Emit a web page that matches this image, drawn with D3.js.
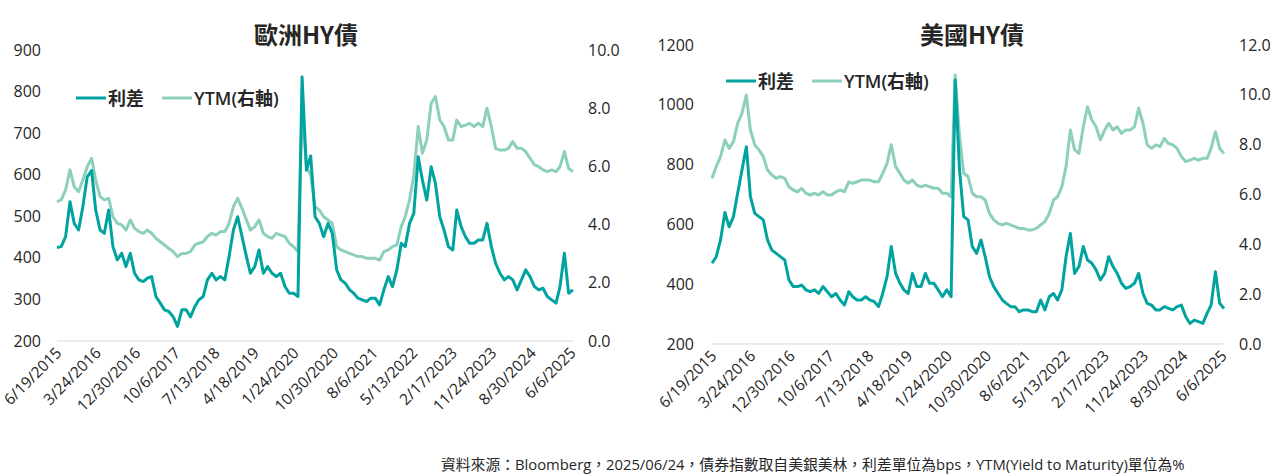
<!DOCTYPE html>
<html>
<head>
<meta charset="utf-8">
<script src="https://cdn.jsdelivr.net/npm/d3@7"></script>
<style>
  body { margin: 0; background: #fff; }
  svg { display: block; font-family: "Open Sans", "Noto Sans CJK TC", sans-serif; }
</style>
</head>
<body>
<svg id="chart" width="1272" height="474"></svg>
<script>
// fechas de los rótulos del eje x (cada 40 semanas)
const tickLabels = ["6/19/2015", "3/24/2016", "12/30/2016", "10/6/2017", "7/13/2018", "4/18/2019",
  "1/24/2020", "10/30/2020", "8/6/2021", "5/13/2022", "2/17/2023", "11/24/2023", "8/30/2024", "6/6/2025"];

// una observación por mes, desde jun-2015 hasta jun-2025
const startDate = new Date(2015, 5, 19);
const endDate = new Date(2025, 5, 19);

// Europa HY: spread (bps) y YTM (%)
const euSpread = [425, 427, 451, 535, 483, 467, 523,
  595, 610, 515, 467, 459, 515, 427, 395, 411, 379, 411, 363,
  347, 343, 351, 355, 307, 291, 275, 271, 258, 235, 275, 275,
  258, 283, 299, 307, 347, 363, 347, 355, 347, 403, 467, 499,
  451, 403, 363, 379, 419, 363, 379, 363, 355, 363, 331, 315,
  315, 307, 835, 611, 645, 499, 483, 451, 483, 459, 371, 347,
  339, 323, 315, 303, 299, 295, 303, 303, 287, 323, 355, 331,
  371, 435, 427, 483, 507, 643, 587, 539, 619, 579, 499, 467,
  427, 419, 515, 475, 451, 435, 435, 443, 443, 483, 427, 387,
  363, 347, 355, 347, 323, 347, 371, 355, 331, 323, 327, 307,
  299, 291, 331, 411, 315, 323];
const euYtm = [4.79, 4.85, 5.19, 5.88, 5.30, 5.13, 5.53,
  5.99, 6.28, 5.53, 4.96, 4.85, 4.90, 4.27, 4.04, 3.99, 3.81, 4.16, 3.87,
  3.76, 3.70, 3.81, 3.70, 3.53, 3.41, 3.30, 3.18, 3.07, 2.90, 3.01, 3.01,
  3.07, 3.30, 3.36, 3.41, 3.59, 3.70, 3.64, 3.76, 3.76, 4.04, 4.62, 4.90,
  4.56, 4.16, 3.81, 3.93, 4.16, 3.70, 3.59, 3.53, 3.70, 3.64, 3.59, 3.36,
  3.24, 3.07, 7.94, 5.99, 5.70, 4.62, 4.50, 4.27, 4.16, 4.04, 3.24, 3.13,
  3.07, 3.01, 2.96, 2.90, 2.90, 2.84, 2.84, 2.84, 2.78, 3.07, 3.13, 3.24,
  3.30, 3.93, 4.27, 4.85, 5.70, 7.37, 6.45, 6.91, 8.17, 8.40, 7.59, 7.37,
  6.91, 6.91, 7.59, 7.37, 7.42, 7.48, 7.37, 7.48, 7.37, 8.00, 7.37, 6.62,
  6.56, 6.56, 6.62, 6.85, 6.62, 6.62, 6.51, 6.28, 6.05, 5.99, 5.88, 5.82,
  5.88, 5.82, 5.99, 6.51, 5.93, 5.82];

// EEUU HY: spread (bps) y YTM (%)
const usSpread = [470, 492, 548, 640, 592, 626, 704,
  782, 860, 693, 637, 626, 615, 548, 514, 503, 492, 481, 414,
  392, 392, 397, 381, 375, 381, 369, 392, 375, 358, 369, 347,
  330, 375, 358, 347, 347, 358, 347, 342, 325, 369, 425, 526,
  436, 403, 381, 369, 436, 392, 392, 436, 403, 403, 381, 358,
  381, 358, 1083, 782, 626, 615, 526, 503, 548, 492, 425, 392,
  369, 347, 336, 325, 325, 308, 314, 314, 308, 308, 347, 314,
  358, 369, 347, 381, 492, 570, 436, 459, 526, 481, 470, 448,
  414, 436, 492, 459, 436, 403, 386, 392, 403, 436, 369, 336,
  330, 314, 314, 325, 319, 314, 325, 330, 291, 269, 280, 275,
  269, 303, 330, 442, 336, 319];
const usYtm = [6.65, 7.12, 7.52, 8.19, 7.85, 8.12, 8.86,
  9.26, 9.99, 8.59, 7.99, 7.79, 7.52, 6.98, 6.78, 6.65, 6.72, 6.65, 6.31,
  6.18, 6.11, 6.25, 6.05, 5.98, 6.05, 5.98, 6.11, 5.98, 5.98, 6.11, 6.18,
  6.11, 6.51, 6.45, 6.51, 6.58, 6.58, 6.58, 6.51, 6.51, 6.85, 7.25, 8.00,
  7.12, 6.85, 6.58, 6.45, 6.58, 6.38, 6.31, 6.38, 6.31, 6.25, 6.25, 6.05,
  6.05, 5.91, 10.80, 8.32, 6.85, 6.72, 6.05, 5.91, 5.91, 5.78, 5.24, 4.98,
  4.84, 4.78, 4.84, 4.78, 4.71, 4.64, 4.64, 4.58, 4.58, 4.64, 4.78, 4.91,
  5.24, 5.78, 5.91, 6.31, 7.12, 8.59, 7.79, 7.65, 8.72, 9.52, 8.99, 8.72,
  8.19, 8.59, 8.86, 8.59, 8.72, 8.45, 8.59, 8.59, 8.72, 9.46, 8.86, 7.99,
  7.85, 7.99, 7.92, 8.25, 8.05, 7.99, 7.85, 7.52, 7.32, 7.38, 7.45, 7.38,
  7.45, 7.45, 7.85, 8.52, 7.85, 7.65];

const euLeftTicks = [200, 300, 400, 500, 600, 700, 800, 900];
const euRightTicks = [0, 2, 4, 6, 8, 10];
const usLeftTicks = [200, 400, 600, 800, 1000, 1200];
const usRightTicks = [0, 2, 4, 6, 8, 10, 12];

const legendNames = ["利差", "YTM(右軸)"];
const footNote = "資料來源：Bloomberg，2025/06/24，債券指數取自美銀美林，利差單位為bps，YTM(Yield to Maturity)單位為%";

const colorSpread = "#00a39f";
const colorYtm = "#8ccfbd";
const textColor = "#262626";

const parseDate = d3.timeParse("%-m/%-d/%Y");
const dates = euSpread.map((_, i) => d3.timeMonth.offset(startDate, i));

const svg = d3.select("#chart");

function drawPanel(cfg) {
  const g = svg.append("g");
  const x = d3.scaleTime().domain([startDate, endDate]).range([cfg.x0, cfg.x1]);
  const yL = d3.scaleLinear().domain([cfg.leftTicks[0], cfg.leftTicks[cfg.leftTicks.length - 1]]).range([cfg.yBase, cfg.yTop]);
  const yR = d3.scaleLinear().domain([cfg.rightTicks[0], cfg.rightTicks[cfg.rightTicks.length - 1]]).range([cfg.yBase, cfg.yTop]);

  // línea base
  g.append("line")
    .attr("x1", cfg.x0).attr("x2", cfg.x1)
    .attr("y1", cfg.yBase).attr("y2", cfg.yBase)
    .attr("stroke", "#d9d9d9").attr("stroke-width", 1);

  // eje izquierdo
  const axL = g.append("g")
    .attr("transform", `translate(${cfg.leftLabelX},0)`)
    .call(d3.axisLeft(yL).tickValues(cfg.leftTicks).tickSize(0).tickPadding(0).tickFormat(d3.format("d")));
  axL.select(".domain").remove();
  axL.selectAll("text").attr("font-size", 16).attr("fill", textColor).attr("font-family", "Open Sans");

  // eje derecho
  const axR = g.append("g")
    .attr("transform", `translate(${cfg.rightLabelX},0)`)
    .call(d3.axisRight(yR).tickValues(cfg.rightTicks).tickSize(0).tickPadding(0).tickFormat(d3.format(".1f")));
  axR.select(".domain").remove();
  axR.selectAll("text").attr("font-size", 16).attr("fill", textColor).attr("font-family", "Open Sans");

  // eje x con rótulos girados
  const axX = g.append("g")
    .attr("transform", `translate(0,${cfg.yBase})`)
    .call(d3.axisBottom(x).tickValues(tickLabels.map(parseDate)).tickSize(0).tickPadding(0)
      .tickFormat(d3.timeFormat("%-m/%-d/%Y")));
  axX.select(".domain").remove();
  axX.selectAll("text")
    .attr("font-size", 15.5).attr("fill", textColor).attr("font-family", "Open Sans")
    .attr("text-anchor", "end")
    .attr("dy", null)
    .attr("y", 0)
    .attr("transform", "translate(5,13) rotate(-45)");

  // líneas
  const lineYtm = d3.line().x((d, i) => x(dates[i])).y(d => yR(d));
  const lineSpread = d3.line().x((d, i) => x(dates[i])).y(d => yL(d));
  g.append("path").datum(cfg.ytm)
    .attr("d", lineYtm).attr("fill", "none")
    .attr("stroke", colorYtm).attr("stroke-width", 3).attr("stroke-linejoin", "round");
  g.append("path").datum(cfg.spread)
    .attr("d", lineSpread).attr("fill", "none")
    .attr("stroke", colorSpread).attr("stroke-width", 3).attr("stroke-linejoin", "round");

  // título
  g.append("text")
    .attr("x", cfg.titleX).attr("y", 44)
    .attr("text-anchor", "middle")
    .attr("font-size", 24).attr("font-weight", "bold").attr("fill", textColor)
    .attr("font-family", "Noto Sans CJK TC")
    .text(cfg.title);

  // leyenda
  const lg = g.append("g").attr("transform", `translate(${cfg.legendX},${cfg.legendY})`);
  [colorSpread, colorYtm].forEach((c, i) => {
    const off = i === 0 ? 0 : 86;
    lg.append("line").attr("x1", off).attr("x2", off + 30).attr("y1", 0).attr("y2", 0)
      .attr("stroke", c).attr("stroke-width", 3);
    lg.append("text").attr("x", off + 32).attr("y", 6.5)
      .attr("font-size", 18).attr("font-weight", 600).attr("fill", textColor)
      .attr("font-family", "Open Sans, Noto Sans CJK TC")
      .text(legendNames[i]);
  });
}

drawPanel({
  title: "歐洲HY債", titleX: 306,
  x0: 57, x1: 573, yBase: 341, yTop: 50,
  leftTicks: euLeftTicks, rightTicks: euRightTicks,
  leftLabelX: 41, rightLabelX: 588,
  spread: euSpread, ytm: euYtm,
  legendX: 76, legendY: 98
});

drawPanel({
  title: "美國HY債", titleX: 972,
  x0: 712, x1: 1224, yBase: 344, yTop: 45,
  leftTicks: usLeftTicks, rightTicks: usRightTicks,
  leftLabelX: 694, rightLabelX: 1239,
  spread: usSpread, ytm: usYtm,
  legendX: 726, legendY: 81
});

svg.append("text")
  .attr("x", 441).attr("y", 470)
  .attr("font-size", 14.8).attr("fill", textColor)
  .attr("font-family", "Open Sans, Noto Sans CJK TC")
  .text(footNote);
</script>
</body>
</html>
